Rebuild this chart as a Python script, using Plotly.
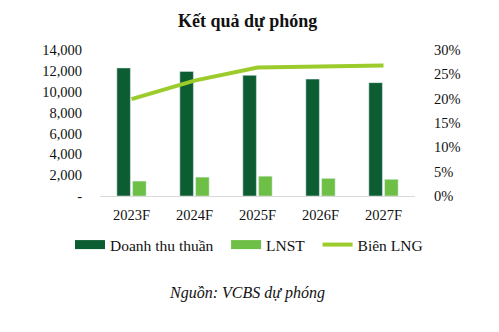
import plotly.graph_objects as go

categories = ["2023F", "2024F", "2025F", "2026F", "2027F"]
doanh_thu = [12280, 11950, 11570, 11210, 10870]
lnst = [1430, 1810, 1900, 1690, 1600]
bien_lng = [0.199, 0.237, 0.264, 0.265, 0.268]

left_tickvals = [0, 2000, 4000, 6000, 8000, 10000, 12000, 14000]
left_ticktext = ["-", "2,000", "4,000", "6,000", "8,000", "10,000", "12,000", "14,000"]
right_tickvals = [0, 0.05, 0.10, 0.15, 0.20, 0.25, 0.30]
right_ticktext = ["0%", "5%", "10%", "15%", "20%", "25%", "30%"]

DARK = "#0C5E32"
LIGHT = "#6EBF45"
LINEC = "#9CCB2C"
FONT = "Liberation Serif"
NB = "\u00a0\u00a0"

fig = go.Figure()
fig.add_trace(go.Bar(x=categories, y=doanh_thu, name="Doanh thu thuần",
                     marker_color=DARK, showlegend=False))
fig.add_trace(go.Bar(x=categories, y=lnst, name="LNST",
                     marker_color=LIGHT, showlegend=False))
fig.add_trace(go.Scatter(x=categories, y=bien_lng, name="Biên LNG", yaxis="y2",
                         mode="lines", line=dict(color=LINEC, width=4),
                         showlegend=False))
# legend entries (wide swatches like the original)
fig.add_trace(go.Scatter(x=[None], y=[None], mode="lines", name="Doanh thu thuần" + NB,
                         line=dict(color=DARK, width=9)))
fig.add_trace(go.Scatter(x=[None], y=[None], mode="lines", name="LNST" + NB,
                         line=dict(color=LIGHT, width=9)))
fig.add_trace(go.Scatter(x=[None], y=[None], mode="lines", name="Biên LNG",
                         line=dict(color=LINEC, width=4), yaxis="y2"))

fig.update_layout(
    width=499, height=332,
    margin=dict(l=100, r=84, t=50, b=136, autoexpand=False),
    paper_bgcolor="white", plot_bgcolor="white",
    font=dict(family=FONT, size=14.5, color="#111111"),
    barmode="group", bargap=0.5, bargroupgap=0.14,
    xaxis=dict(showgrid=False, showline=True, linecolor="#D9D9D9", linewidth=1,
               ticks="outside", ticklen=6, tickcolor="rgba(0,0,0,0)",
               tickfont=dict(family=FONT, size=14.5), zeroline=False),
    yaxis=dict(range=[0, 14000], tickvals=left_tickvals, ticktext=left_ticktext,
               showgrid=False, zeroline=False, showline=False,
               ticks="outside", ticklen=14, tickcolor="rgba(0,0,0,0)",
               tickfont=dict(family=FONT, size=14.5)),
    yaxis2=dict(range=[0, 0.30], tickvals=right_tickvals, ticktext=right_ticktext,
                overlaying="y", side="right", showgrid=False, zeroline=False,
                showline=False, ticks="outside", ticklen=15,
                tickcolor="rgba(0,0,0,0)", tickfont=dict(family=FONT, size=14.5)),
    legend=dict(orientation="h", x=(70 - 100) / 315, xanchor="left",
                y=(196 - 245) / 146, yanchor="middle",
                font=dict(family=FONT, size=15.5),
                itemwidth=30, tracegroupgap=0, bgcolor="rgba(0,0,0,0)"),
    annotations=[
        dict(text="<b>Kết quả dự phóng</b>", xref="paper", yref="paper",
             x=0.468, y=(196 - 21) / 146, xanchor="center", yanchor="middle",
             showarrow=False, font=dict(family=FONT, size=18, color="#111111")),
        dict(text="<i>Nguồn: VCBS dự phóng</i>", xref="paper", yref="paper",
             x=0.468, y=(196 - 293) / 146, xanchor="center", yanchor="middle",
             showarrow=False, font=dict(family=FONT, size=16, color="#111111")),
    ],
)

fig.write_html("out.html")
